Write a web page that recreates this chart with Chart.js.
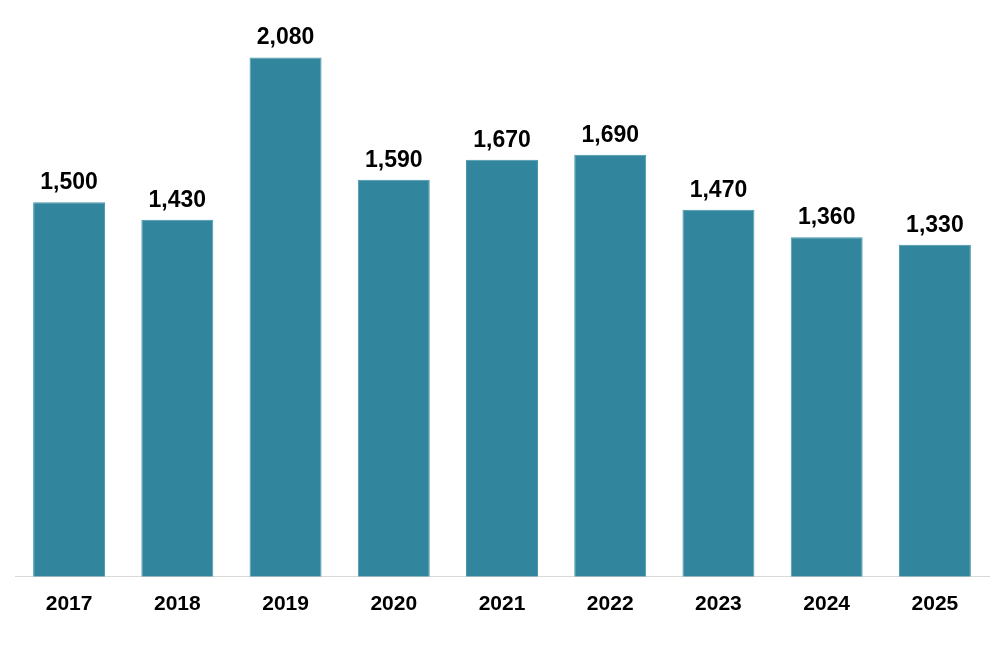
<!DOCTYPE html>
<html>
<head>
<meta charset="utf-8">
<script src="https://cdn.jsdelivr.net/npm/chart.js@4/dist/chart.umd.min.js"></script>
<style>
  html, body { margin: 0; padding: 0; background: #ffffff; }
  #wrap { width: 1004px; height: 655px; position: relative; }
</style>
</head>
<body>
<div id="wrap"><canvas id="c" width="1004" height="655"></canvas></div>
<script>
const categories = ['2017', '2018', '2019', '2020', '2021', '2022', '2023', '2024', '2025'];
const values = [1500, 1430, 2080, 1590, 1670, 1690, 1470, 1360, 1330];

const valueLabels = {
  id: 'valueLabels',
  afterDatasetsDraw(chart) {
    const ctx = chart.ctx;
    const meta = chart.getDatasetMeta(0);
    ctx.save();
    ctx.font = 'bold 23px "Liberation Sans", Arial, sans-serif';
    ctx.fillStyle = '#000000';
    ctx.textAlign = 'center';
    ctx.textBaseline = 'alphabetic';
    meta.data.forEach((bar, i) => {
      ctx.fillText(values[i].toLocaleString('en-US'), bar.x, bar.y - 13);
    });
    ctx.restore();
  }
};

new Chart(document.getElementById('c'), {
  type: 'bar',
  data: {
    labels: categories,
    datasets: [{
      data: values,
      backgroundColor: '#31859C',
      borderColor: '#4696ab',
      borderWidth: 1,
      categoryPercentage: 1,
      barPercentage: 0.665
    }]
  },
  options: {
    responsive: false,
    animation: false,
    devicePixelRatio: 1,
    layout: { padding: { left: 15, right: 15, top: 0, bottom: 23 } },
    plugins: { legend: { display: false }, tooltip: { enabled: false } },
    scales: {
      x: {
        grid: { display: false, drawTicks: false },
        border: { display: true, color: '#d9d9d9', width: 1 },
        ticks: {
          color: '#000000',
          padding: 15,
          maxRotation: 0,
          autoSkip: false,
          font: { family: '"Liberation Sans", Arial, sans-serif', size: 21, weight: 'bold' }
        }
      },
      y: {
        display: false,
        min: 0,
        max: 2310
      }
    }
  },
  plugins: [valueLabels]
});
</script>
</body>
</html>
